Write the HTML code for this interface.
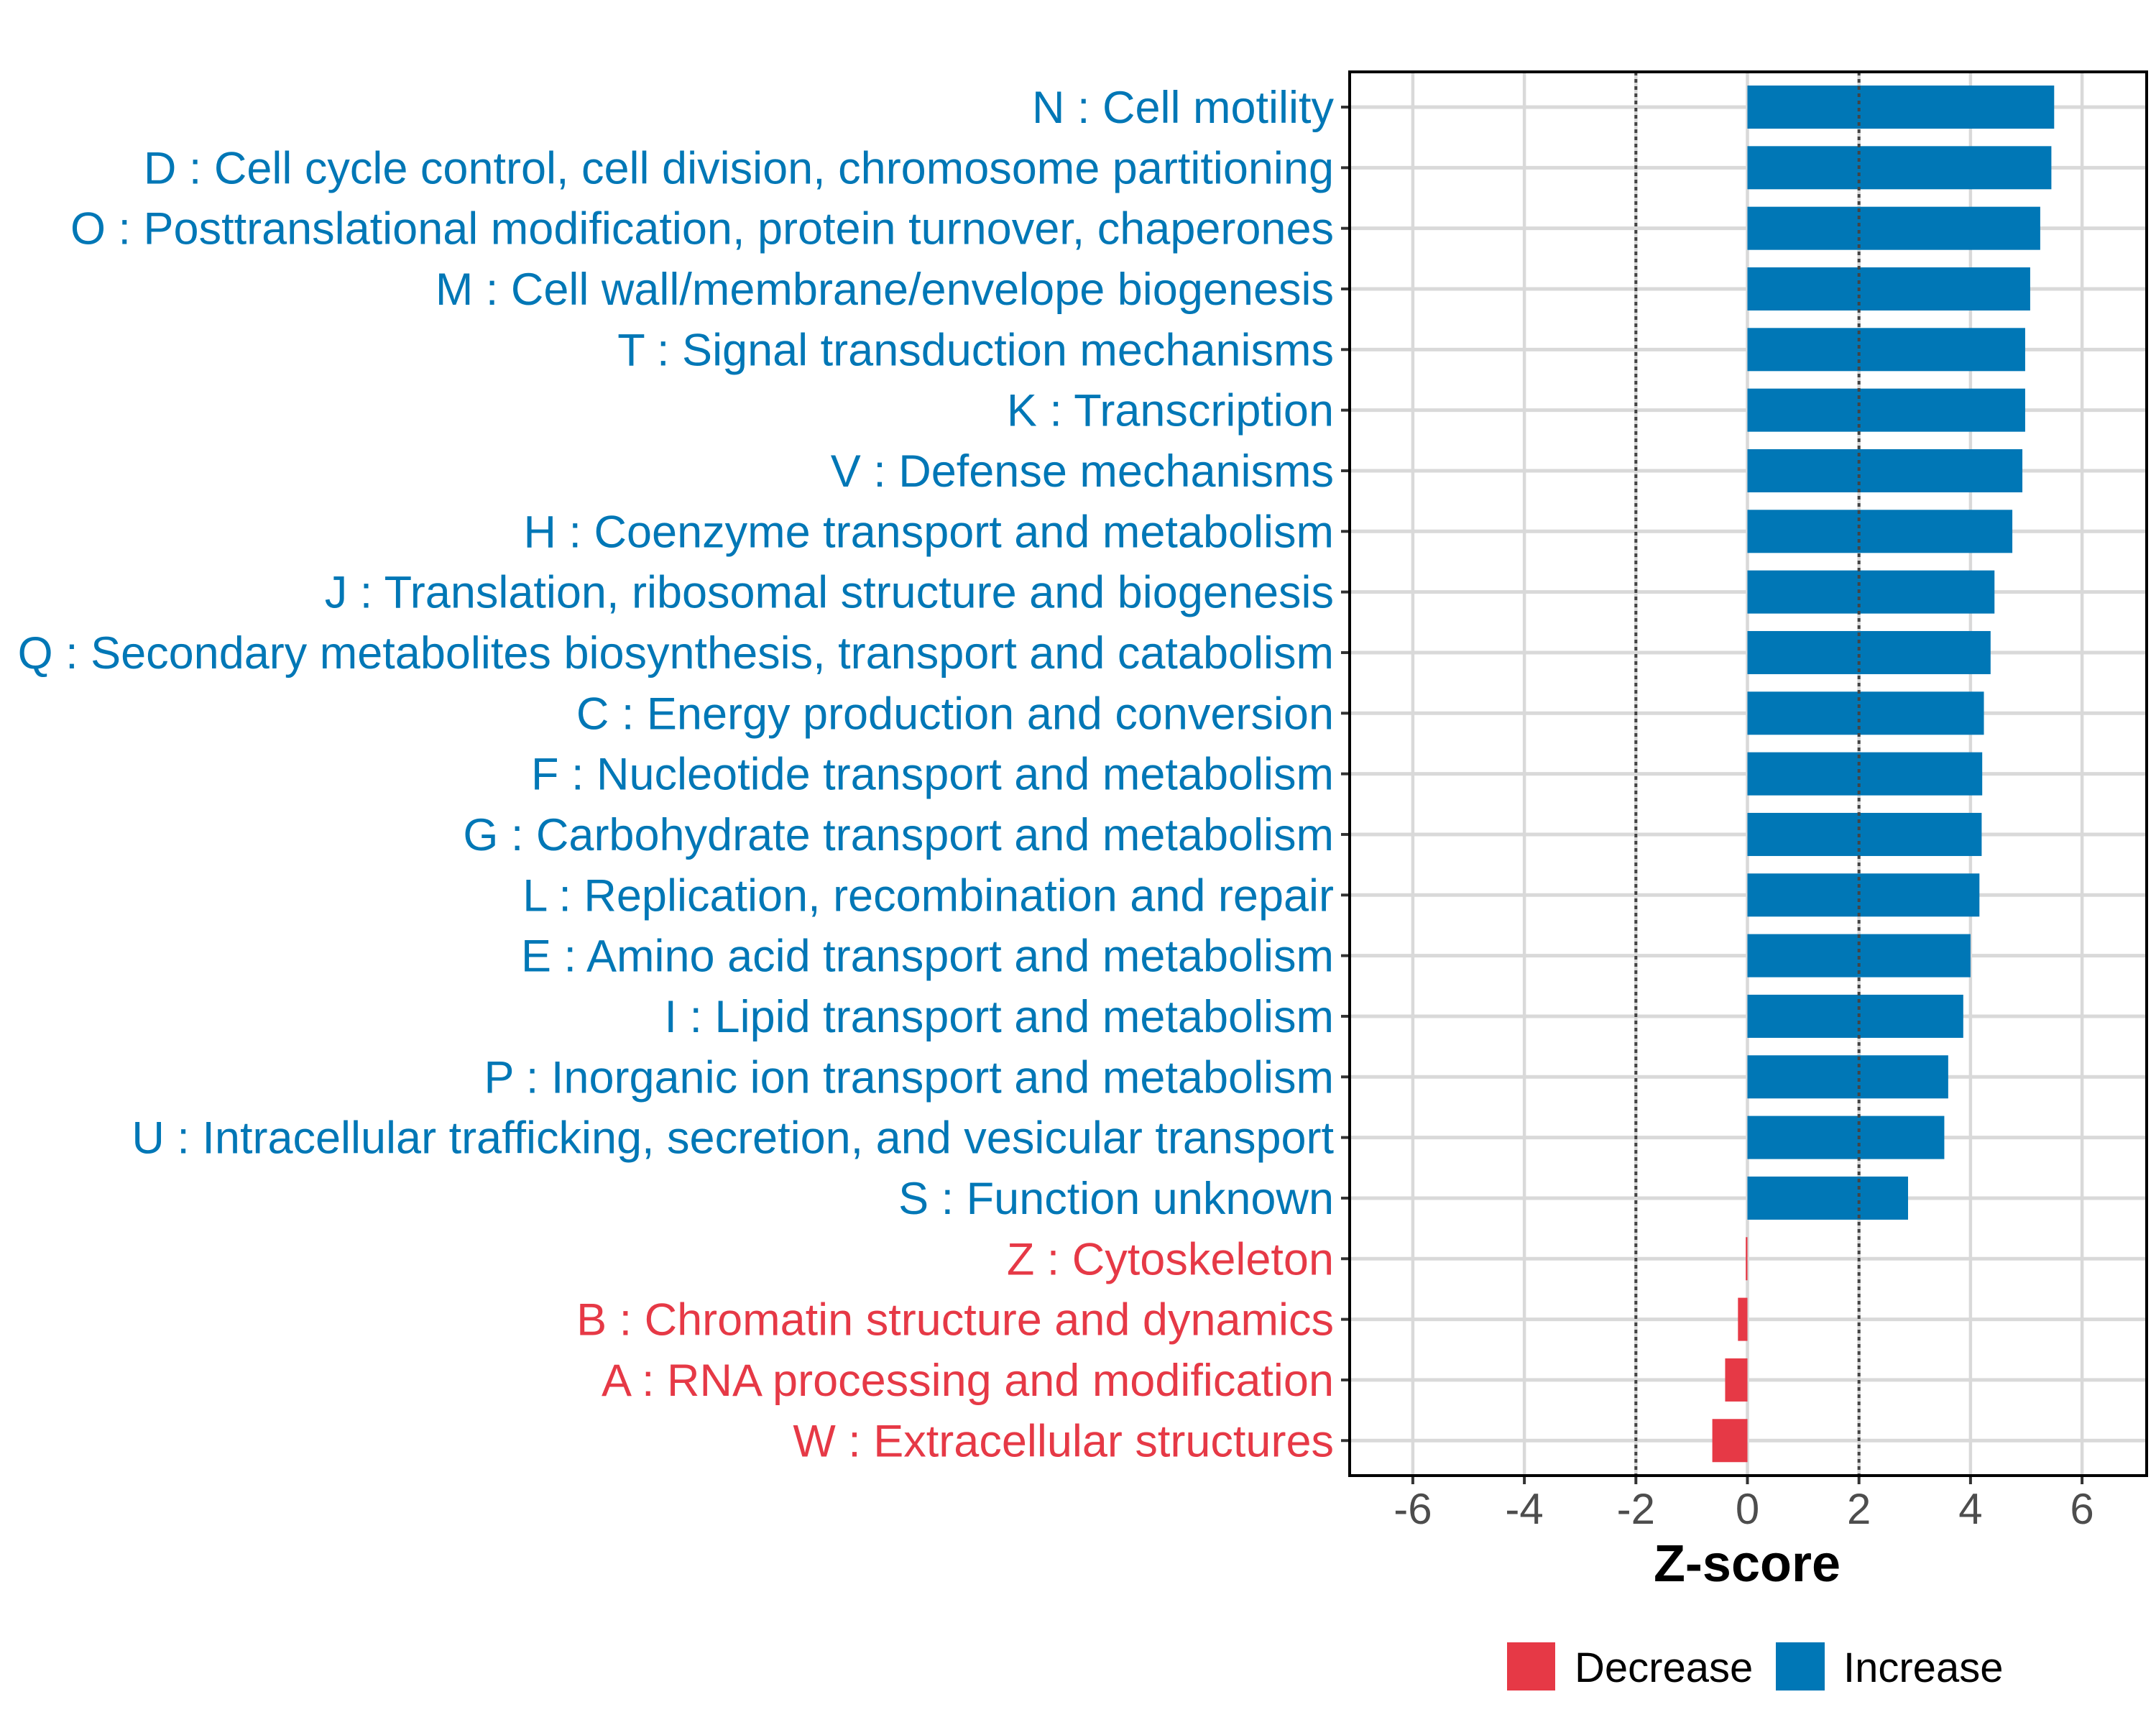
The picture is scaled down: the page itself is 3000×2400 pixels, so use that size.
<!DOCTYPE html>
<html><head><meta charset="utf-8"><style>
html,body{margin:0;padding:0;background:#fff;}
svg{display:block;font-family:"Liberation Sans",Arial,sans-serif;}
</style></head><body>
<svg id="chart" width="3000" height="2400" viewBox="0 0 3000 2400" xmlns="http://www.w3.org/2000/svg">
<rect width="3000" height="2400" fill="#fff"/>
<g id="grid"></g><g id="bars"></g><g id="refs"></g><g id="labels"></g><g id="xaxis"></g>
<rect x="1878" y="100" width="1109" height="1953" fill="none" stroke="#000" stroke-width="4"/>
<text x="2431" y="2200" font-size="72" font-weight="bold" text-anchor="middle" fill="#000">Z-score</text>
<g>
<rect x="2097" y="2285" width="67" height="67" fill="#E63946"/>
<text x="2191" y="2340" font-size="58" fill="#000">Decrease</text>
<rect x="2471" y="2285" width="68" height="67" fill="#0077B6"/>
<text x="2565" y="2340" font-size="58" fill="#000">Increase</text>
</g>
</svg>
<script>
const categories=["N : Cell motility","D : Cell cycle control, cell division, chromosome partitioning","O : Posttranslational modification, protein turnover, chaperones","M : Cell wall/membrane/envelope biogenesis","T : Signal transduction mechanisms","K : Transcription","V : Defense mechanisms","H : Coenzyme transport and metabolism","J : Translation, ribosomal structure and biogenesis","Q : Secondary metabolites biosynthesis, transport and catabolism","C : Energy production and conversion","F : Nucleotide transport and metabolism","G : Carbohydrate transport and metabolism","L : Replication, recombination and repair","E : Amino acid transport and metabolism","I : Lipid transport and metabolism","P : Inorganic ion transport and metabolism","U : Intracellular trafficking, secretion, and vesicular transport","S : Function unknown","Z : Cytoskeleton","B : Chromatin structure and dynamics","A : RNA processing and modification","W : Extracellular structures"];
const zscores=[5.5,5.45,5.25,5.07,4.98,4.98,4.93,4.75,4.43,4.36,4.24,4.21,4.2,4.16,4.0,3.87,3.6,3.53,2.88,-0.03,-0.17,-0.4,-0.63];
const xTicks=[-6,-4,-2,0,2,4,6];
const refLines=[-2,2];
const NS="http://www.w3.org/2000/svg";
const X0=2431.5,UNIT=77.6,TOP=100,BOT=2053,LEFT=1878,RIGHT=2987,STEP=84.33,FIRST=149,BARH=60;
const BLUE="#0077B6",RED="#E63946";
function x(v){return X0+v*UNIT;}
function y(i){return FIRST+i*STEP;}
function mk(tag,attrs,parent){const e=document.createElementNS(NS,tag);for(const k in attrs)e.setAttribute(k,attrs[k]);parent.appendChild(e);return e;}
const grid=document.getElementById('grid'),bars=document.getElementById('bars'),refs=document.getElementById('refs'),labels=document.getElementById('labels'),xa=document.getElementById('xaxis');
xTicks.forEach(t=>{
  const g=mk('line',{x1:x(t),x2:x(t),y1:TOP,y2:BOT,stroke:"#d9d9d9","stroke-width":4.5},grid);
  
  
  const tk=mk('line',{x1:x(t),x2:x(t),y1:BOT,y2:BOT+12,stroke:"#333","stroke-width":4},xa);
  
  
  const tl=mk('text',{x:x(t),y:2120,"font-size":60,"text-anchor":"middle",fill:"#4d4d4d"},xa);
  tl.textContent=t;
  
  
});
categories.forEach((c,i)=>{
  const g=mk('line',{x1:LEFT,x2:RIGHT,y1:y(i),y2:y(i),stroke:"#d9d9d9","stroke-width":5},grid);
  
  
  const v=zscores[i],col=v>=0?BLUE:RED;
  const b=mk('rect',{x:Math.min(x(0),x(v)),y:y(i)-BARH/2,width:Math.max(Math.abs(x(v)-x(0)),1.5),height:BARH,fill:col},bars);
  
  
  const tk=mk('line',{x1:LEFT-12,x2:LEFT,y1:y(i),y2:y(i),stroke:"#333","stroke-width":4},labels);
  
  
  const t=mk('text',{x:1856,y:y(i)+22,"font-size":63,"text-anchor":"end",fill:col},labels);
  t.textContent=c;
  
  
});
refLines.forEach(r=>{
  const l=mk('line',{x1:x(r),x2:x(r),y1:TOP,y2:BOT,stroke:"#444","stroke-width":4,"stroke-dasharray":"5 5"},refs);
  
  
});
</script>
</body></html>
